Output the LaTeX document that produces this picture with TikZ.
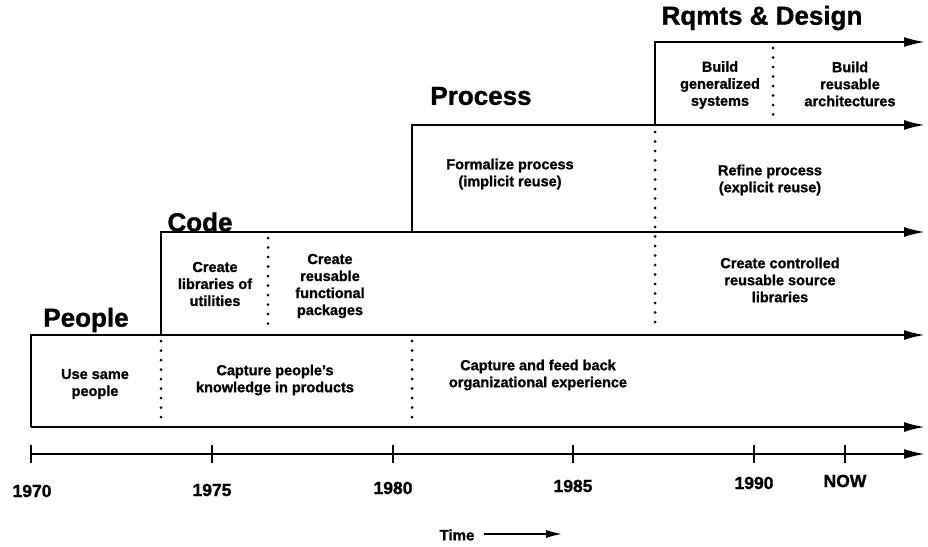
\documentclass[tikz,border=0pt]{standalone}
\usepackage{fontspec}
\setmainfont{Liberation Sans}[BoldFeatures={FakeBold=1.2}]
\usetikzlibrary{arrows.meta}
\begin{document}
\begin{tikzpicture}[x=1pt,y=-1pt,
  band/.style={line width=2.2pt, line join=miter},
  flow/.style={band,-{Latex[length=21pt,width=10pt]}},
  divider/.style={line width=3pt, line cap=round, dash pattern=on 0pt off 9.5pt},
  phase/.style={font=\bfseries\fontsize{26}{30}\selectfont, inner sep=0pt},
  activity/.style={font=\bfseries\fontsize{14.5}{17}\selectfont, align=center, inner sep=0pt},
  year/.style={font=\bfseries\fontsize{17.5}{20}\selectfont, inner sep=0pt},
  tick/.style={line width=2.2pt}]
\useasboundingbox (0,0) rectangle (928,546);

% corner and end points of the stepped bands
\coordinate (rq0) at (655,125); \coordinate (rq1) at (655,42);  \coordinate (rqE) at (925,42);
\coordinate (pr0) at (412,232); \coordinate (pr1) at (412,125); \coordinate (prE) at (925,125);
\coordinate (cd0) at (161,335); \coordinate (cd1) at (161,232); \coordinate (cdE) at (925,232);
\coordinate (pp0) at (31,427);  \coordinate (pp1) at (31,335);  \coordinate (ppE) at (925,335);
\coordinate (btE) at (925,427);
\coordinate (ax0) at (31,454);  \coordinate (axE) at (925,454);

% stepped bands
\draw[flow] (rq0) -- (rq1) -- (rqE);
\draw[flow] (pr0) -- (pr1) -- (prE);
\draw[flow] (cd0) -- (cd1) -- (cdE);
\draw[flow] (pp0) -- (pp1) -- (ppE);
\draw[flow] (pp0) -- (btE);

% dotted dividers between activities
\coordinate (dv1a) at (773,48);  \coordinate (dv1b) at (773,122);
\coordinate (dv2a) at (655,132); \coordinate (dv2b) at (655,330);
\coordinate (dv3a) at (268,238); \coordinate (dv3b) at (268,332);
\coordinate (dv4a) at (161,341); \coordinate (dv4b) at (161,424);
\coordinate (dv5a) at (412,341); \coordinate (dv5b) at (412,424);
\draw[divider] (dv1a) -- (dv1b);
\draw[divider] (dv2a) -- (dv2b);
\draw[divider] (dv3a) -- (dv3b);
\draw[divider] (dv4a) -- (dv4b);
\draw[divider] (dv5a) -- (dv5b);

% phase titles
\node[phase] (tRqmts) at (762,18) {Rqmts \& Design};
\node[phase] (tProcess) at (481,96) {Process};
\node[phase] (tCode) at (200,222) {Code};
\node[phase] (tPeople) at (86,320) {People};

% activities
\node[activity] (aGen) at (720,85) {Build\\generalized\\systems};
\node[activity] (aArch) at (850,84) {Build\\reusable\\architectures};
\node[activity] (aForm) at (510,174) {Formalize process\\(implicit reuse)};
\node[activity] (aRefine) at (770,180) {Refine process\\(explicit reuse)};
\node[activity] (aLib) at (215,284) {Create\\libraries of\\utilities};
\node[activity] (aPkg) at (330,286) {Create\\reusable\\functional\\packages};
\node[activity] (aCtrl) at (780,280) {Create controlled\\reusable source\\libraries};
\node[activity] (aSame) at (95,384) {Use same\\people};
\node[activity] (aKnow) at (275,380) {Capture people's\\knowledge in products};
\node[activity] (aOrg) at (538,375) {Capture and feed back\\organizational experience};

% time axis
\draw[flow] (ax0) -- (axE);
\draw[tick] (31,445) -- (31,463);
\foreach \x in {212, 393, 573, 754, 845} {
  \draw[tick] (\x,445) -- (\x,463);
}
\node[year] (y1970) at (32,491) {1970};
\node[year] (y1975) at (212,490) {1975};
\node[year] (y1980) at (393,488) {1980};
\node[year] (y1985) at (573,486) {1985};
\node[year] (y1990) at (754,483) {1990};
\node[year] (yNow) at (845,481) {NOW};

% time caption
\node[year, font=\bfseries\fontsize{15}{18}\selectfont] (time) at (457,535) {Time};
\coordinate (timeA) at (484,534);
\coordinate (timeB) at (562,534);
\draw[line width=1.5pt, -{Latex[length=16pt,width=8pt]}] (timeA) -- (timeB);
\end{tikzpicture}
\end{document}
